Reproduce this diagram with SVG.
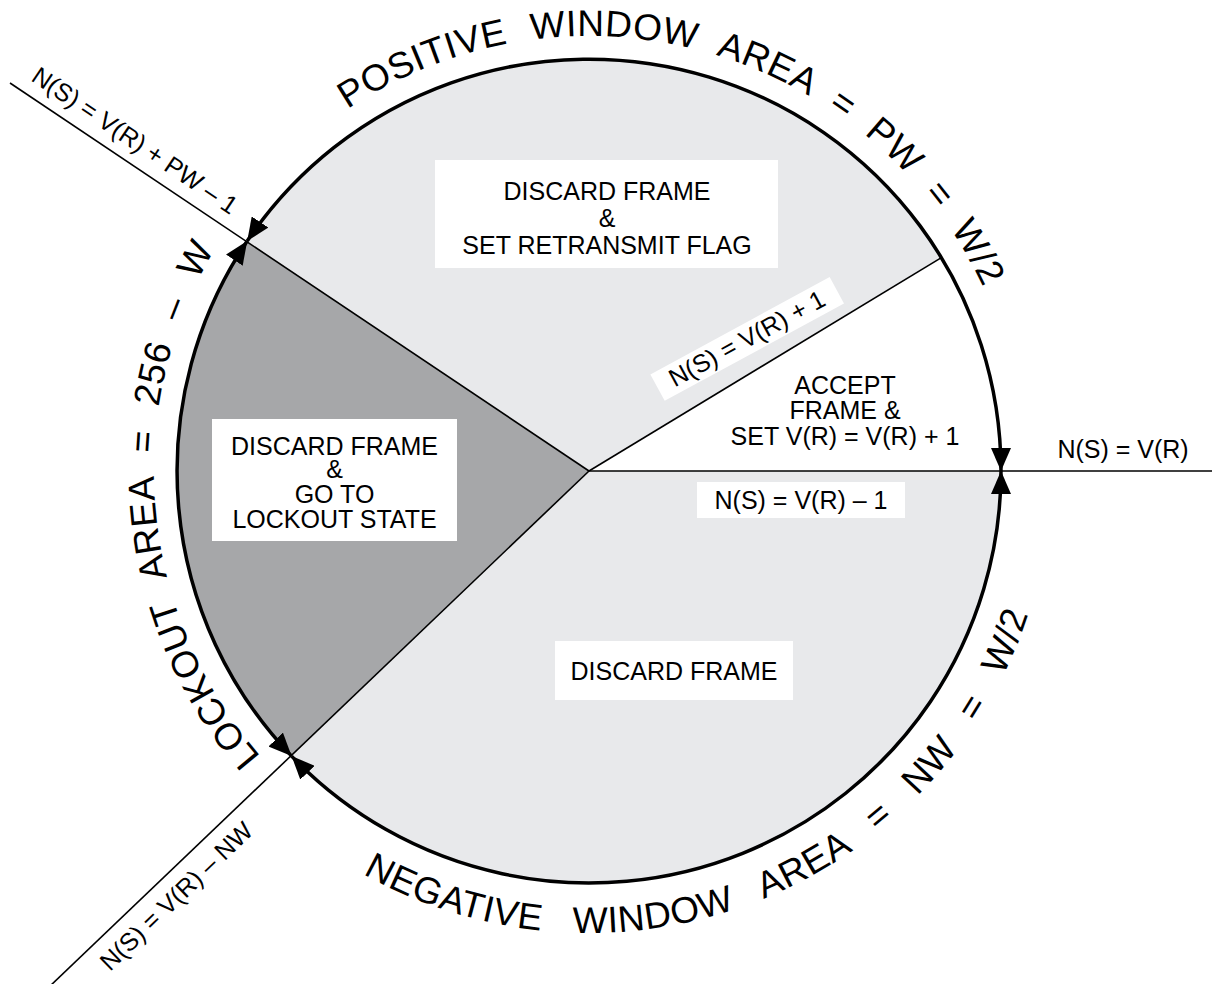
<svg xmlns="http://www.w3.org/2000/svg" width="1217" height="984" viewBox="0 0 1217 984">
<style>
text{font-family:"Liberation Sans",Arial,Helvetica,sans-serif;fill:#000}
.lbl{font-size:25px;text-anchor:middle}
.big{font-size:37px;letter-spacing:0.5px}
.box{fill:#fff}
.thin{stroke:#000;stroke-width:1.6;fill:none}
.rim{stroke:#000;stroke-width:3.5;fill:none;marker-start:url(#ah);marker-end:url(#ah)}
.lite{fill:#e8e9eb}
.dark{fill:#a6a7a9}
</style>
<defs>
<marker id="ah" viewBox="0 0 23 20" refX="23" refY="10" markerWidth="23" markerHeight="20" markerUnits="userSpaceOnUse" orient="auto-start-reverse">
<path d="M0,0 L23,10 L0,20 z" fill="#000"/>
</marker>
<path id="pPos" d="M347.7,109.1 A435,435 0 0 1 1022.3,433.1"/>
<path id="pNeg" d="M362.9,873.9 A462,462 0 0 0 1049.2,511.3"/>
<path id="pLock" d="M260.7,756.4 A435,435 0 0 1 339.5,114.7"/>
</defs>
<rect width="1217" height="984" fill="#fff"/>

<g id="positive-window">
<path class="lite" d="M589,471 L247.2,241.1 A412,412 0 0 1 941.4,257.6 Z"/>
<rect class="box" x="435" y="160" width="343" height="108"/>
<text class="lbl" x="607" y="200">DISCARD FRAME</text>
<text class="lbl" x="607" y="227">&amp;</text>
<text class="lbl" x="607" y="254">SET RETRANSMIT FLAG</text>
</g>

<g id="accept">
<text class="lbl" x="845" y="394">ACCEPT</text>
<text class="lbl" x="845" y="419">FRAME &amp;</text>
<text class="lbl" x="845" y="445">SET V(R) = V(R) + 1</text>
</g>

<g id="negative-window">
<path class="lite" d="M589,471 L1001,471 A412,412 0 0 1 291.6,756.1 Z"/>
<rect class="box" x="555" y="641" width="238" height="59"/>
<text class="lbl" x="674" y="680">DISCARD FRAME</text>
</g>

<g id="lockout">
<path class="dark" d="M589,471 L291.6,756.1 A412,412 0 0 1 247.2,241.1 Z"/>
<rect class="box" x="212" y="419" width="245" height="122"/>
<text class="lbl" x="334.5" y="455">DISCARD FRAME</text>
<text class="lbl" x="334.5" y="478">&amp;</text>
<text class="lbl" x="334.5" y="503">GO TO</text>
<text class="lbl" x="334.5" y="528">LOCKOUT STATE</text>
</g>

<g id="connectors">
<line class="thin" x1="10" y1="83" x2="589" y2="471"/>
<line class="thin" x1="48" y1="988" x2="589" y2="471"/>
<line class="thin" x1="589" y1="471" x2="941.4" y2="257.6"/>
<line class="thin" x1="589" y1="471" x2="1212" y2="471"/>
<path class="rim" d="M247.2,241.1 A412,412 0 0 1 1001,471"/>
<path class="rim" d="M1001,471 A412,412 0 0 1 291.6,756.1"/>
<path class="rim" d="M291.6,756.1 A412,412 0 0 1 247.2,241.1"/>
</g>

<g id="boundary-labels">
<g transform="translate(751,346) rotate(-28.5)">
<rect class="box" x="-102" y="-23" width="204" height="30"/>
<text class="lbl" x="0" y="0">N(S) = V(R) + 1</text>
</g>
<rect class="box" x="697" y="482" width="208" height="36"/>
<text class="lbl" x="801" y="509">N(S) = V(R) – 1</text>
<text class="lbl" x="1123" y="458">N(S) = V(R)</text>
<text font-size="25" transform="translate(30,80) rotate(34)">N(S) = V(R) + PW – 1</text>
<text font-size="25" transform="translate(110,972) rotate(-44)">N(S) = V(R) – NW</text>
</g>

<g id="area-labels">
<text class="big" word-spacing="12.3"><textPath href="#pPos">POSITIVE WINDOW AREA = PW = W/2</textPath></text>
<text class="big" word-spacing="20.9"><textPath href="#pNeg">NEGATIVE WINDOW AREA = NW = W/2</textPath></text>
<text class="big" font-size="41" word-spacing="13.5"><textPath href="#pLock">LOCKOUT AREA = 256 – W</textPath></text>
</g>
</svg>
